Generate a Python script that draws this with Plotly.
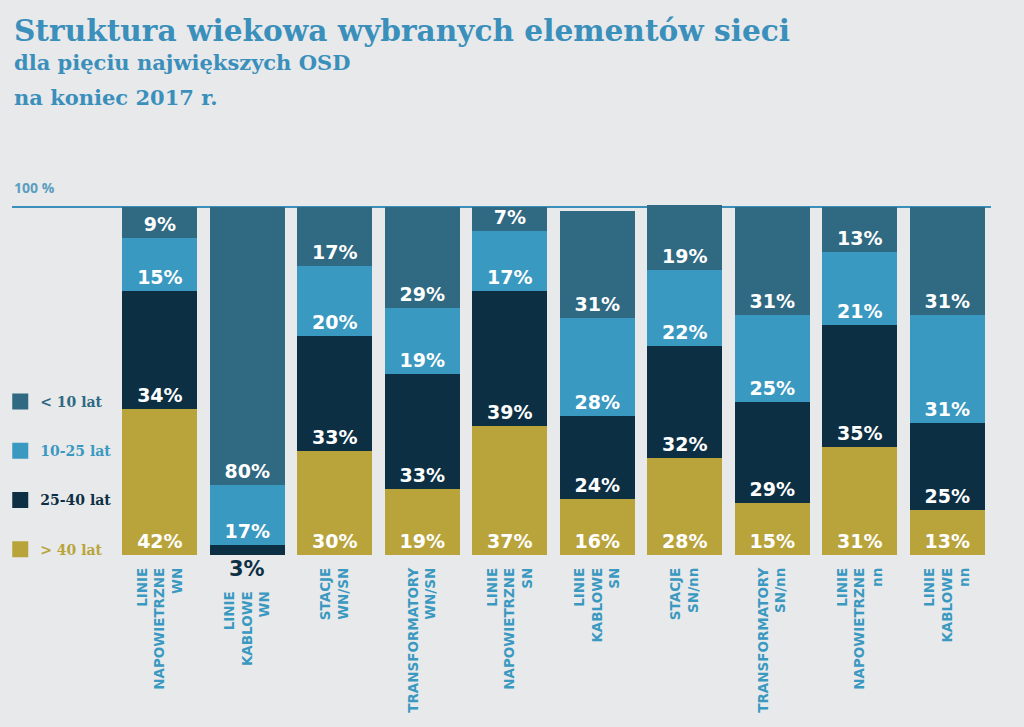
import plotly.graph_objects as go

NB = "\u00a0" * 5
categories = [
    "LINIE<br>NAPOWIETRZNE<br>WN",
    f"LINIE{NB}<br>KABLOWE{NB}<br>WN{NB}",
    "STACJE<br>WN/SN",
    "TRANSFORMATORY<br>WN/SN",
    "LINIE<br>NAPOWIETRZNE<br>SN",
    "LINIE<br>KABLOWE<br>SN",
    "STACJE<br>SN/nn",
    "TRANSFORMATORY<br>SN/nn",
    "LINIE<br>NAPOWIETRZNE<br>nn",
    "LINIE<br>KABLOWE<br>nn",
]
over_40 = [42, 0, 30, 19, 37, 16, 28, 15, 31, 13]
y25_40 = [34, 3, 33, 33, 39, 24, 32, 29, 35, 25]
y10_25 = [15, 17, 20, 19, 17, 28, 22, 25, 21, 31]
under_10 = [9, 80, 17, 29, 7, 31, 19, 31, 13, 31]

series_names = ["> 40 lat", "25-40 lat", "10-25 lat", "< 10 lat"]
series_values = [over_40, y25_40, y10_25, under_10]
colors = ["#b9a43c", "#0c2f44", "#3a99c0", "#2f6982"]

BG = "#e8e9eb"
W, H = 1024, 727
L, R, T, B = 12, 33, 205, 172
PH = H - T - B
YMAX = 100.6

fig = go.Figure()
for name, vals, col in zip(series_names, series_values, colors):
    texts = [f"{v}%" if v >= 5 else "" for v in vals]
    fig.add_trace(go.Bar(
        x=categories, y=vals, name=name, marker=dict(color=col, line=dict(width=0)),
        text=texts, textposition="inside", insidetextanchor="start", textangle=0,
        insidetextfont=dict(family="DejaVu Sans", size=19, color="white", weight="bold"),
        constraintext="none", showlegend=False, hoverinfo="skip",
    ))
    # small values shown below the bar
    for c, v in zip(categories, vals):
        if 0 < v < 5:
            fig.add_annotation(x=c, y=0, yanchor="top", yshift=0, text=f"<b>{v}%</b>",
                               showarrow=False,
                               font=dict(family="DejaVu Sans", size=21, color=col))

# legend entries (larger squares)
for name, col in reversed(list(zip(series_names, colors))):
    fig.add_trace(go.Scatter(
        x=[None], y=[None], mode="markers", name=f"<span style='color:{col}'>{name}</span>",
        marker=dict(symbol="square", size=20, color=col), legendgroup=name, showlegend=True,
    ))

fig.update_layout(
    width=W, height=H, paper_bgcolor=BG, plot_bgcolor=BG,
    margin=dict(l=L, r=R, t=T, b=B, pad=0, autoexpand=False),
    barmode="stack", bargap=0.14,
    uniformtext=dict(minsize=19, mode="show"),
    legend=dict(x=-0.012, xanchor="left", y=(H - B - 386) / PH, yanchor="top",
                bgcolor="rgba(0,0,0,0)", tracegroupgap=28, itemsizing="trace",
                font=dict(family="DejaVu Serif", size=14, weight="bold"),
                traceorder="grouped", itemwidth=30),
    xaxis=dict(range=[-1.69, 9.5], tickangle=-90, showgrid=False, zeroline=False,
               showline=False, ticks="", ticklabelstandoff=9, automargin=False,
               tickfont=dict(family="DejaVu Sans", size=13.5, color="#3a99c0", weight="bold")),
    yaxis=dict(range=[0, YMAX], tickvals=[100], showticklabels=False, showgrid=True,
               gridcolor="#3a8fbb", gridwidth=2, zeroline=False, showline=False, ticks="",
               automargin=False),
    showlegend=True,
)

def py(pix):
    return (H - B - pix) / PH

fig.add_annotation(xref="paper", yref="paper", x=0, xanchor="left", y=py(30), yanchor="middle",
                   text="<b>Struktura wiekowa wybranych elementów sieci</b>", showarrow=False,
                   font=dict(family="DejaVu Serif", size=29.6, color="#3a8fbb"))
fig.add_annotation(xref="paper", yref="paper", x=0, xanchor="left", y=py(62), yanchor="middle",
                   text="<b>dla pięciu największych OSD</b>", showarrow=False,
                   font=dict(family="DejaVu Serif", size=21, color="#3a8fbb"))
fig.add_annotation(xref="paper", yref="paper", x=0, xanchor="left", y=py(97), yanchor="middle",
                   text="<b>na koniec 2017 r.</b>", showarrow=False,
                   font=dict(family="DejaVu Serif", size=21, color="#3a8fbb"))
fig.add_annotation(xref="paper", yref="paper", x=0, xanchor="left", y=py(187), yanchor="middle",
                   text="<b>100 %</b>", showarrow=False,
                   font=dict(family="Open Sans", size=14, color="#5a9ec0"))

fig.write_html("out.html")
